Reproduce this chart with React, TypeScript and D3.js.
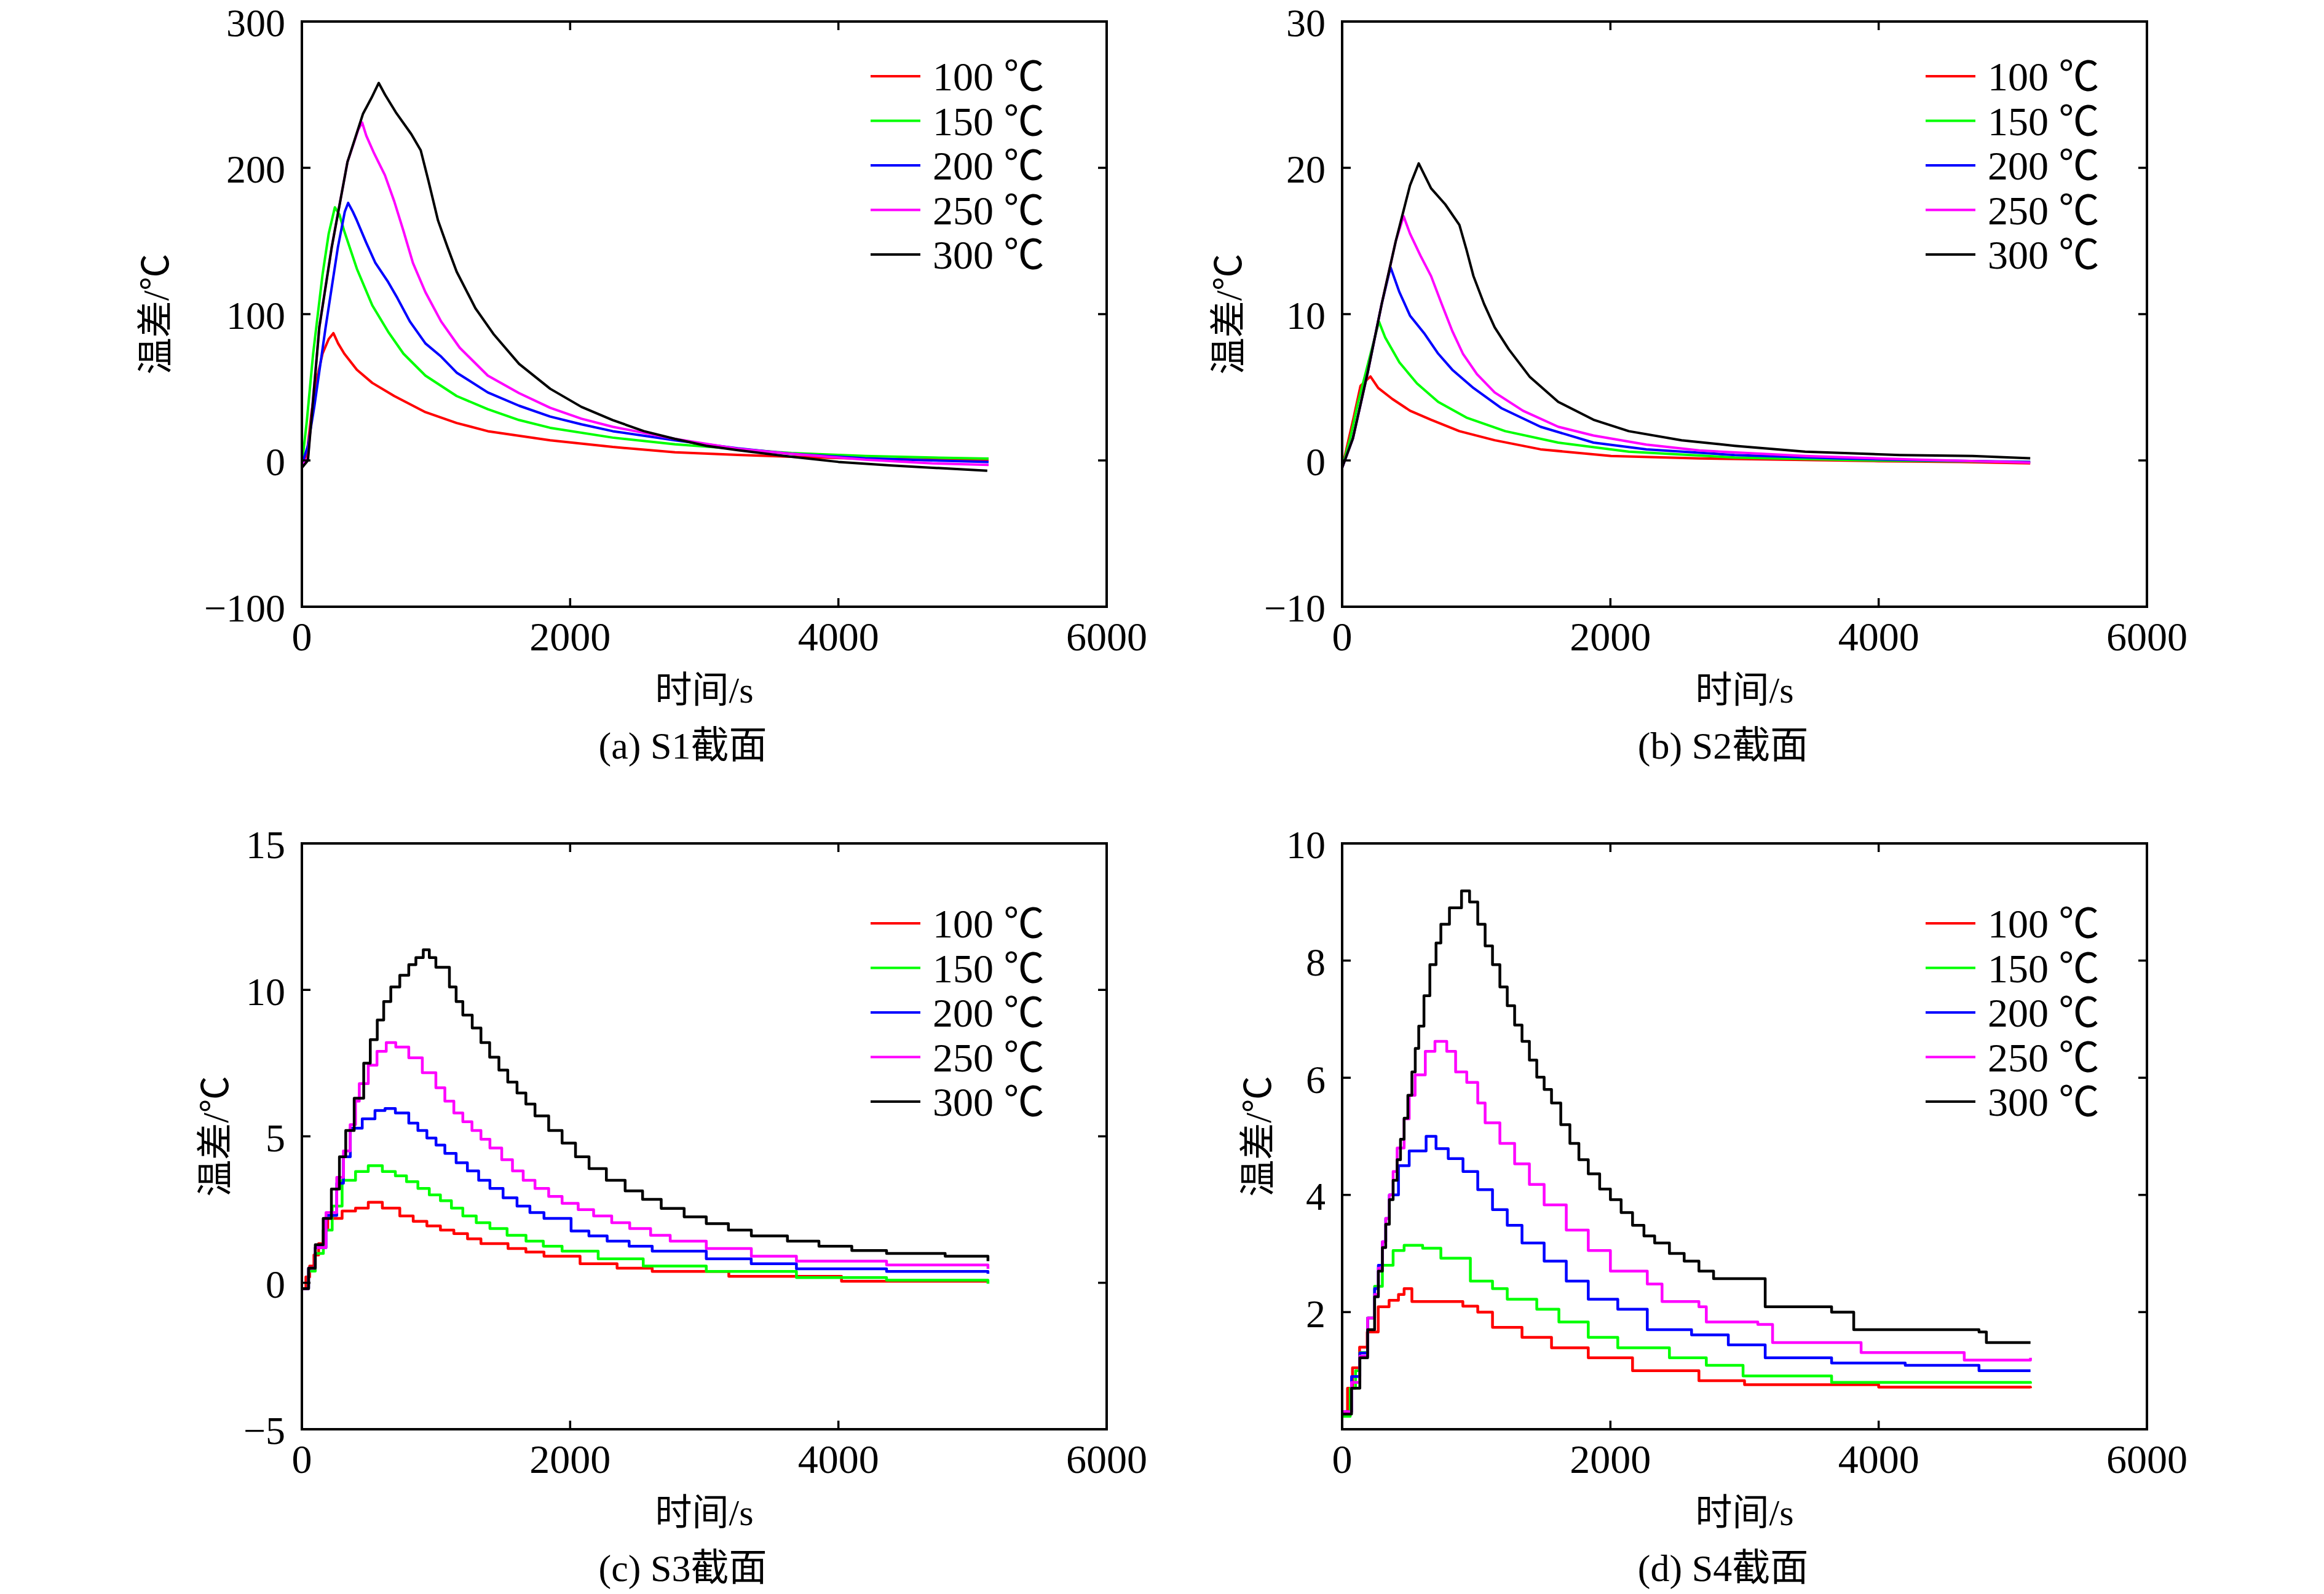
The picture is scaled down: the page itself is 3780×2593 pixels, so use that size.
import * as d3 from 'd3'

type Pt = [number, number]

const xTicks = [0, 2000, 4000, 6000]
const legendLabels = ['100 ℃', '150 ℃', '200 ℃', '250 ℃', '300 ℃']
const seriesColors = ['#ff0000', '#00ff00', '#0000ff', '#ff00ff', '#000000']

// (a) S1
const s1Ticks = [-100, 0, 100, 200, 300]
const s1_100: Pt[] = [[0,-3],[37,4],[72,33],[110,55],[154,73],[200,83],[235,87],[270,80],[316,73],[410,62],[525,53],[689,44],[921,33],[1154,25.6],[1386,20],[1851,13.8],[2317,9.2],[2782,5.6],[3248,3.8],[3650,2.5],[4200,1.2],[4700,0.5],[5120,0]]
const s1_150: Pt[] = [[0,-3],[37,27],[84,73],[154,127],[200,155],[246,173],[280,168],[315,157],[410,131],[525,106],[643,88],[757,73],[921,58],[1154,44],[1386,35],[1619,27.6],[1851,22.3],[2317,15.6],[2782,11],[3248,7.9],[3650,5],[4200,3],[4700,2],[5120,1.3]]
const s1_200: Pt[] = [[0,-3],[45,10],[93,37],[177,91],[269,146],[320,170],[345,176],[380,170],[410,164],[479,149],[548,135],[643,122],[712,111],[805,95],[921,80],[1038,71],[1154,60],[1386,46.5],[1619,37.4],[1851,30],[2084,24.7],[2317,20],[2782,13.8],[3248,8.3],[3650,4.5],[4200,1.5],[4700,0],[5120,-1]]
const s1_250: Pt[] = [[0,-4],[45,2],[130,91],[223,146],[340,204],[420,226],[449,231],[480,222],[538,210],[619,195],[689,177],[757,157],[828,135],[921,115],[1038,95],[1177,77],[1386,58],[1619,46],[1851,36],[2084,28.5],[2317,23],[2782,14.7],[3248,8],[3650,4.5],[4200,0.5],[4700,-2],[5120,-3]]
const s1_300: Pt[] = [[0,-5],[45,0],[130,91],[223,146],[340,204],[456,237],[520,248],[573,258],[620,250],[700,238],[816,223],[886,212],[944,191],[1015,164],[1085,146],[1154,129],[1294,104],[1432,86],[1619,66],[1851,49],[2084,36.6],[2317,27.6],[2550,20],[2782,14.7],[3015,10],[3248,7],[3650,2.5],[4000,-1],[4400,-3.5],[4800,-5.5],[5110,-7]]

// (b) S2
const s2Ticks = [-10, 0, 10, 20, 30]
const s2_100: Pt[] = [[0,-0.5],[85,2.9],[137,5.1],[211,5.74],[269,4.95],[374,4.2],[506,3.4],[663,2.78],[874,2.0],[1137,1.38],[1479,0.76],[2005,0.3],[2663,0.14],[3300,0.05],[4000,-0.05],[4600,-0.1],[5130,-0.2]]
const s2_150: Pt[] = [[0,-0.5],[60,1.5],[120,4],[190,6.5],[274,9.5],[321,8.4],[427,6.7],[558,5.26],[716,4.0],[927,2.93],[1216,2.0],[1611,1.22],[2137,0.6],[2926,0.2],[3979,0],[5130,-0.1]]
const s2_200: Pt[] = [[0,-0.5],[80,1.5],[190,6],[295,10.7],[361,13.2],[427,11.5],[506,9.9],[611,8.7],[716,7.3],[821,6.2],[979,4.95],[1190,3.56],[1479,2.3],[1874,1.22],[2268,0.76],[2926,0.37],[3715,0.14],[4400,0],[5130,-0.1]]
const s2_250: Pt[] = [[0,-0.5],[80,1.5],[190,6],[295,10.7],[400,15],[458,16.7],[506,15.5],[584,14.0],[663,12.6],[742,10.7],[821,8.85],[900,7.3],[1005,5.9],[1137,4.65],[1348,3.4],[1611,2.3],[1874,1.7],[2268,1.08],[2663,0.68],[3452,0.3],[4300,0.05],[5130,-0.15]]
const s2_300: Pt[] = [[0,-0.5],[80,1.5],[190,6],[295,10.7],[400,15],[506,18.8],[571,20.3],[663,18.6],[769,17.5],[874,16.1],[927,14.4],[979,12.6],[1058,10.7],[1137,9.1],[1242,7.6],[1400,5.7],[1611,4.0],[1874,2.78],[2137,2.0],[2531,1.38],[2926,1.0],[3452,0.6],[4157,0.37],[4700,0.3],[5130,0.15]]

// (c) S3
const s3Ticks = [-5, 0, 5, 10, 15]
const s3_100: Pt[] = [[0,-0.2],[30,0.2],[58,0.57],[90,0.95],[125,1.34],[160,1.8],[193,2.2],[300,2.45],[400,2.55],[495,2.75],[600,2.55],[730,2.28],[830,2.1],[932,1.94],[1033,1.8],[1133,1.68],[1235,1.5],[1335,1.34],[1537,1.17],[1670,1.05],[1805,0.91],[2074,0.65],[2350,0.5],[2612,0.39],[3183,0.22],[4023,0.05],[5115,0.05]]
const s3_150: Pt[] = [[0,-0.2],[50,0.4],[100,1.0],[160,1.8],[226,2.62],[300,3.5],[400,3.8],[495,4.0],[600,3.8],[697,3.65],[780,3.45],[865,3.22],[950,3.0],[1033,2.8],[1115,2.55],[1200,2.28],[1300,2.05],[1402,1.85],[1530,1.62],[1671,1.42],[1800,1.25],[1940,1.08],[2209,0.82],[2545,0.57],[3015,0.39],[3687,0.18],[4359,0.09],[5115,-0.03]]
const s3_200: Pt[] = [[0,-0.2],[50,0.5],[100,1.2],[180,2.3],[260,3.4],[310,4.3],[361,5.28],[450,5.6],[545,5.88],[620,5.95],[697,5.8],[797,5.45],[865,5.2],[932,4.94],[1000,4.7],[1066,4.42],[1150,4.1],[1234,3.82],[1318,3.5],[1402,3.22],[1500,2.9],[1604,2.62],[1700,2.4],[1805,2.2],[2007,1.77],[2140,1.6],[2276,1.42],[2440,1.25],[2612,1.08],[3015,0.82],[3350,0.65],[3687,0.48],[4359,0.39],[5115,0.31]]
const s3_250: Pt[] = [[0,-0.2],[50,0.5],[100,1.2],[180,2.4],[260,3.6],[310,4.5],[360,5.4],[400,6.2],[428,6.8],[495,7.43],[560,7.9],[629,8.2],[700,8.05],[797,7.68],[898,7.17],[999,6.66],[1066,6.2],[1133,5.8],[1200,5.5],[1268,5.2],[1335,4.9],[1402,4.6],[1490,4.2],[1570,3.82],[1650,3.5],[1738,3.22],[1840,2.95],[1940,2.71],[2060,2.5],[2175,2.28],[2310,2.05],[2444,1.85],[2600,1.62],[2746,1.42],[3015,1.17],[3351,0.91],[3687,0.74],[4359,0.61],[5115,0.48]]
const s3_300: Pt[] = [[0,-0.2],[50,0.5],[100,1.3],[159,2.2],[220,3.2],[280,4.3],[327,5.2],[390,6.3],[461,7.5],[510,8.3],[562,8.97],[610,9.6],[663,10.1],[730,10.5],[797,10.86],[850,11.1],[905,11.37],[950,11.1],[999,10.77],[1100,10.1],[1150,9.6],[1200,9.14],[1270,8.7],[1335,8.2],[1400,7.7],[1469,7.26],[1535,6.85],[1604,6.48],[1670,6.1],[1738,5.7],[1840,5.2],[1940,4.77],[2040,4.3],[2141,3.9],[2270,3.5],[2410,3.14],[2540,2.85],[2679,2.54],[2850,2.25],[3015,2.02],[3180,1.8],[3351,1.6],[3620,1.42],[3855,1.25],[4100,1.1],[4359,1.0],[4796,0.91],[5115,0.74]]

// (d) S4
const s4Ticks = [2, 4, 6, 8, 10]
const s4_100: Pt[] = [[0,0.3],[40,0.7],[77,1.05],[130,1.4],[187,1.66],[269,2.09],[350,2.2],[420,2.3],[462,2.4],[520,2.18],[700,2.18],[900,2.1],[1011,2.0],[1121,1.74],[1341,1.57],[1561,1.39],[1835,1.22],[2165,1.0],[2660,0.83],[3000,0.76],[4000,0.72],[5132,0.7]]
const s4_150: Pt[] = [[0,0.22],[60,0.7],[100,1.0],[132,1.31],[190,1.9],[242,2.44],[300,2.8],[380,3.05],[462,3.14],[600,3.09],[736,2.92],[956,2.53],[1121,2.4],[1231,2.22],[1451,2.05],[1616,1.83],[1835,1.57],[2055,1.39],[2440,1.22],[2715,1.09],[2989,0.91],[3649,0.8],[5132,0.78]]
const s4_200: Pt[] = [[0,0.3],[70,0.9],[132,1.3],[190,1.9],[242,2.4],[270,2.8],[300,3.2],[325,3.6],[352,4.0],[420,4.5],[500,4.75],[626,5.0],[700,4.79],[791,4.62],[901,4.4],[1011,4.09],[1121,3.75],[1231,3.48],[1341,3.18],[1506,2.87],[1671,2.53],[1835,2.22],[2055,2.05],[2275,1.7],[2605,1.61],[2879,1.44],[3154,1.22],[3649,1.13],[4198,1.09],[4748,1.0],[5132,1.0]]
const s4_250: Pt[] = [[0,0.3],[70,0.8],[132,1.25],[190,1.9],[242,2.3],[270,2.75],[300,3.2],[325,3.6],[352,4.0],[380,4.4],[410,4.8],[462,5.3],[500,5.7],[544,6.05],[620,6.45],[692,6.62],[780,6.45],[846,6.1],[929,5.92],[1011,5.57],[1066,5.23],[1176,4.88],[1286,4.53],[1396,4.18],[1506,3.83],[1671,3.4],[1835,3.05],[2000,2.7],[2275,2.48],[2385,2.18],[2660,2.09],[2715,1.83],[3099,1.79],[3209,1.48],[3814,1.48],[3869,1.31],[4583,1.31],[4638,1.18],[5132,1.22]]
const s4_300: Pt[] = [[0,0.26],[70,0.7],[132,1.22],[190,1.7],[242,2.26],[270,2.7],[300,3.1],[325,3.5],[352,3.92],[380,4.25],[410,4.6],[435,4.95],[462,5.31],[490,5.7],[520,6.1],[545,6.5],[571,6.88],[610,7.4],[654,7.93],[700,8.3],[736,8.62],[800,8.9],[890,9.19],[950,9.0],[1011,8.62],[1066,8.25],[1121,7.93],[1176,7.55],[1231,7.23],[1286,6.9],[1341,6.62],[1396,6.3],[1451,6.01],[1506,5.8],[1561,5.57],[1630,5.2],[1698,4.88],[1765,4.6],[1835,4.36],[1920,4.1],[2000,3.92],[2080,3.7],[2165,3.48],[2250,3.3],[2330,3.18],[2440,3.0],[2550,2.87],[2660,2.7],[2769,2.57],[3044,2.57],[3154,2.09],[3374,2.09],[3649,2.0],[3814,1.7],[4198,1.7],[4748,1.66],[4803,1.48],[5132,1.48]]

const SERIF = "'Liberation Serif', 'Times New Roman', 'Noto Sans CJK SC', serif"
const W = 3780
const H = 2593

interface PanelSpec {
  left: number
  top: number
  height: number
  yDomain: [number, number]
  yTicks: number[]
  series: Pt[][]
  caption: string
  stepped: boolean
  yTitleOffset: number
  legendX: number
  legendY: number
}

const plotWidth = 1309

const panels: PanelSpec[] = [
  {left: 491, top: 35, height: 952, yDomain: [-100, 300], yTicks: s1Ticks, series: [s1_100, s1_150, s1_200, s1_250, s1_300], caption: '(a) S1截面', stepped: false, yTitleOffset: 237, legendX: 925, legendY: 89},
  {left: 2183, top: 35, height: 952, yDomain: [-10, 30], yTicks: s2Ticks, series: [s2_100, s2_150, s2_200, s2_250, s2_300], caption: '(b) S2截面', stepped: false, yTitleOffset: 184, legendX: 949, legendY: 89},
  {left: 491, top: 1372, height: 953, yDomain: [-5, 15], yTicks: s3Ticks, series: [s3_100, s3_150, s3_200, s3_250, s3_300], caption: '(c) S3截面', stepped: true, yTitleOffset: 140, legendX: 925, legendY: 130},
  {left: 2183, top: 1372, height: 953, yDomain: [0, 10], yTicks: s4Ticks, series: [s4_100, s4_150, s4_200, s4_250, s4_300], caption: '(d) S4截面', stepped: true, yTitleOffset: 136, legendX: 949, legendY: 130},
]

const fmt = (v: number) => (v < 0 ? '\u2212' + Math.abs(v) : String(v))

const Panel = ({p}: {p: PanelSpec}) => {
  const x = d3.scaleLinear().domain([0, 6000]).range([p.left, p.left + plotWidth])
  const y = d3.scaleLinear().domain(p.yDomain).range([p.top + p.height, p.top])
  const line = d3.line<Pt>()
    .x(d => x(d[0]))
    .y(d => y(d[1]))
    .curve(p.stepped ? d3.curveStepAfter : d3.curveLinear)
  const bottom = p.top + p.height
  const right = p.left + plotWidth
  const tickLen = 14

  return (
    <g>
      {p.series.map((s, i) => (
        <path key={i} d={line(s) || ''} fill="none" stroke={seriesColors[i]}
          strokeWidth={p.stepped ? 4.5 : 4} strokeLinejoin="round" />
      ))}
      <rect x={p.left} y={p.top} width={plotWidth} height={p.height}
        fill="none" stroke="#000" strokeWidth={4} />
      {xTicks.map(t => (
        <g key={'x' + t}>
          <line x1={x(t)} x2={x(t)} y1={bottom} y2={bottom - tickLen} stroke="#000" strokeWidth={3.5} />
          <line x1={x(t)} x2={x(t)} y1={p.top} y2={p.top + tickLen} stroke="#000" strokeWidth={3.5} />
          <text x={x(t)} y={bottom + 71} textAnchor="middle" fontSize={66}>{t}</text>
        </g>
      ))}
      {p.yTicks.map(t => (
        <g key={'y' + t}>
          <line x1={p.left} x2={p.left + tickLen} y1={y(t)} y2={y(t)} stroke="#000" strokeWidth={3.5} />
          <line x1={right} x2={right - tickLen} y1={y(t)} y2={y(t)} stroke="#000" strokeWidth={3.5} />
          <text x={p.left - 27} y={y(t)} dy="0.38em" textAnchor="end" fontSize={64}>{fmt(t)}</text>
        </g>
      ))}
      <text x={p.left + plotWidth / 2} y={bottom + 156} textAnchor="middle" fontSize={60}>时间/s</text>
      <text x={p.left + plotWidth / 2 - 35} y={bottom + 247} textAnchor="middle" fontSize={62}>{p.caption}</text>
      <text transform={`translate(${p.left - p.yTitleOffset},${p.top + p.height / 2}) rotate(-90)`}
        textAnchor="middle" dominantBaseline="central" fontSize={60}>温差/℃</text>
      {legendLabels.map((lab, i) => {
        const ly = p.top + p.legendY + i * 72.5
        return (
          <g key={lab}>
            <line x1={p.left + p.legendX} x2={p.left + p.legendX + 81} y1={ly} y2={ly}
              stroke={seriesColors[i]} strokeWidth={4} />
            <text x={p.left + p.legendX + 101} y={ly} dy="0.35em" fontSize={66}>{lab}</text>
          </g>
        )
      })}
    </g>
  )
}

export default function App() {
  return (
    <svg width={W} height={H} viewBox={`0 0 ${W} ${H}`}
      style={{position: 'absolute', left: 0, top: 0, background: '#fff'}}
      fontFamily={SERIF}>
      <rect width={W} height={H} fill="#fff" />
      {panels.map(p => <Panel key={p.caption} p={p} />)}
    </svg>
  )
}
